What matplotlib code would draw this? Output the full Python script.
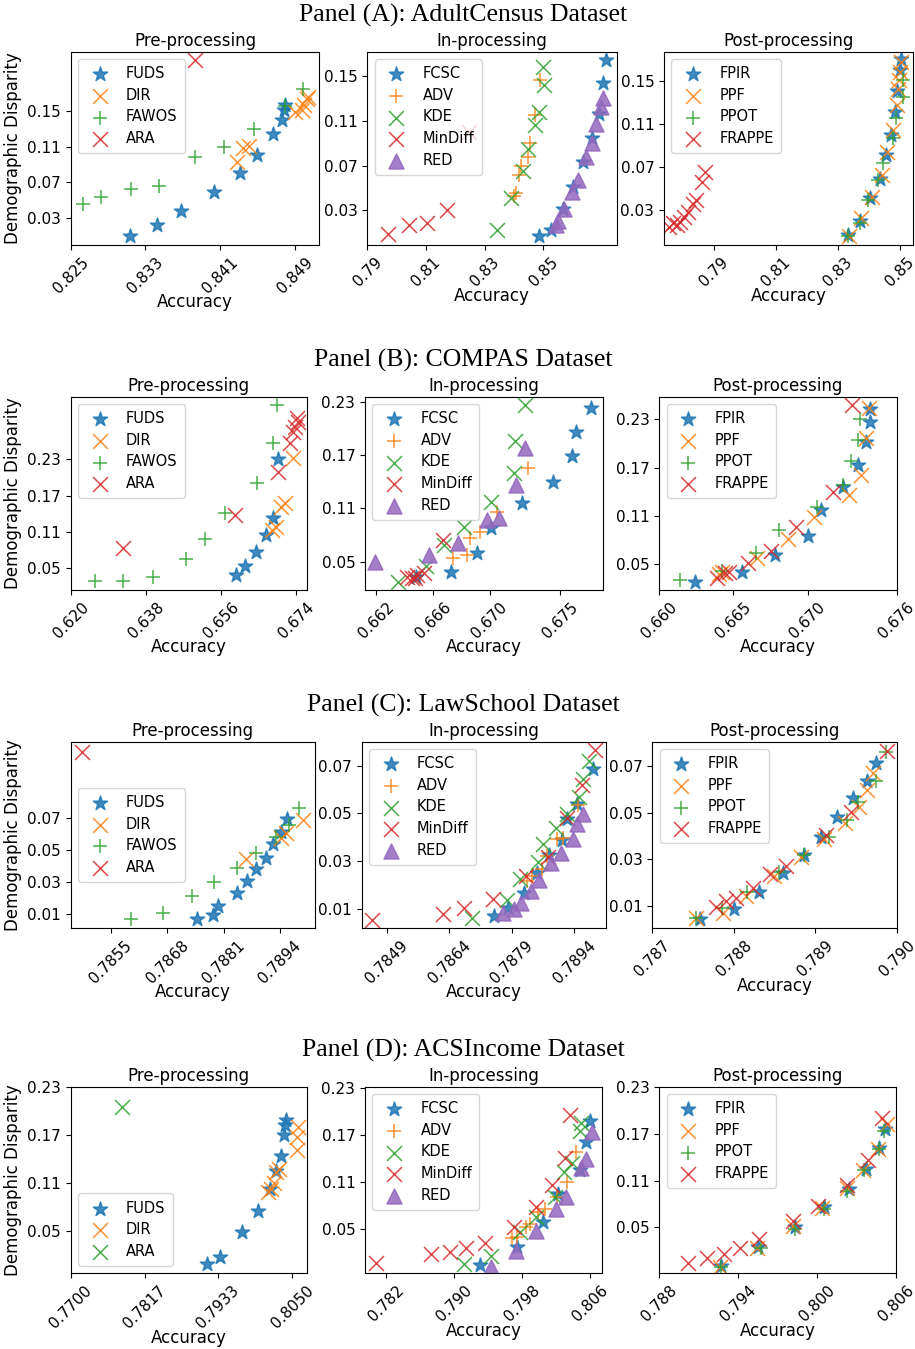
import matplotlib
matplotlib.use("Agg")
import matplotlib.pyplot as plt

# ---------------- Panel (A): AdultCensus ----------------
adult_pre_fuds_acc = [0.8313, 0.8342, 0.8368, 0.8403, 0.8431, 0.8449, 0.8466, 0.8476, 0.8478, 0.8479]
adult_pre_fuds_dp = [0.0089, 0.0213, 0.0371, 0.0586, 0.0797, 0.1004, 0.1241, 0.1399, 0.1512, 0.1564]
adult_pre_dir_acc = [0.8428, 0.8434, 0.8441, 0.8490, 0.8497, 0.8500, 0.8503, 0.8504]
adult_pre_dir_dp = [0.0925, 0.1079, 0.1109, 0.1489, 0.1512, 0.1568, 0.1632, 0.1662]
adult_pre_fawos_acc = [0.8263, 0.8282, 0.8315, 0.8345, 0.8383, 0.8414, 0.8446, 0.8479, 0.8499]
adult_pre_fawos_dp = [0.0458, 0.0526, 0.0620, 0.0657, 0.0977, 0.1090, 0.1297, 0.1557, 0.1745]
adult_pre_ara_acc = [0.8383]
adult_pre_ara_dp = [0.2076]

adult_in_fcsc_acc = [0.8484, 0.8525, 0.8568, 0.8600, 0.8634, 0.8665, 0.8690, 0.8705, 0.8714]
adult_in_fcsc_dp = [0.0071, 0.0124, 0.0312, 0.0511, 0.0729, 0.0943, 0.1158, 0.1435, 0.1643]
adult_in_adv_acc = [0.8400, 0.8407, 0.8416, 0.8425, 0.8449, 0.8455, 0.8473, 0.8489]
adult_in_adv_dp = [0.0431, 0.0452, 0.0616, 0.0696, 0.0779, 0.0905, 0.1152, 0.1464]
adult_in_kde_acc = [0.8343, 0.8391, 0.8430, 0.8446, 0.8473, 0.8485, 0.8503, 0.8500]
adult_in_kde_dp = [0.0124, 0.0407, 0.0654, 0.0845, 0.1062, 0.1179, 0.1420, 0.1578]
adult_in_mindiff_acc = [0.7969, 0.8043, 0.8105, 0.8171, 0.8248]
adult_in_mindiff_dp = [0.0089, 0.0169, 0.0184, 0.0303, 0.1003]
adult_in_red_acc = [0.8543, 0.8551, 0.8571, 0.8597, 0.8619, 0.8646, 0.8665, 0.8680, 0.8697, 0.8702]
adult_in_red_dp = [0.0169, 0.0208, 0.0312, 0.0464, 0.0571, 0.0779, 0.0899, 0.1068, 0.1220, 0.1301]

adult_post_fpir_acc = [0.8333, 0.8371, 0.8403, 0.8436, 0.8455, 0.8471, 0.8484, 0.8491, 0.8500, 0.8502]
adult_post_fpir_dp = [0.0072, 0.0204, 0.0411, 0.0590, 0.0812, 0.0997, 0.1213, 0.1404, 0.1598, 0.1697]
adult_post_ppf_acc = [0.8337, 0.8373, 0.8409, 0.8441, 0.8457, 0.8476, 0.8489, 0.8495, 0.8498, 0.8500, 0.8503]
adult_post_ppf_dp = [0.0063, 0.0226, 0.0426, 0.0627, 0.0843, 0.1043, 0.1275, 0.1419, 0.1506, 0.1583, 0.1676]
adult_post_ppot_acc = [0.8333, 0.8371, 0.8398, 0.8430, 0.8446, 0.8476, 0.8487, 0.8509, 0.8511]
adult_post_ppot_dp = [0.0063, 0.0186, 0.0396, 0.0581, 0.0735, 0.0966, 0.1151, 0.1352, 0.1506]
adult_post_frappe_acc = [0.7756, 0.7769, 0.7780, 0.7790, 0.7803, 0.7817, 0.7831, 0.7842, 0.7860, 0.7871]
adult_post_frappe_dp = [0.0149, 0.0180, 0.0161, 0.0195, 0.0241, 0.0288, 0.0359, 0.0396, 0.0565, 0.0658]

# ---------------- Panel (B): COMPAS ----------------
compas_pre_fuds_acc = [0.6596, 0.6617, 0.6644, 0.6668, 0.6685, 0.6696]
compas_pre_fuds_dp = [0.0390, 0.0544, 0.0775, 0.1051, 0.1326, 0.2300]
compas_pre_dir_acc = [0.6682, 0.6693, 0.6704, 0.6713, 0.6734]
compas_pre_dir_dp = [0.1133, 0.1188, 0.1518, 0.1573, 0.2317]
compas_pre_fawos_acc = [0.6258, 0.6326, 0.6398, 0.6476, 0.6522, 0.6570, 0.6646, 0.6686, 0.6694]
compas_pre_fawos_dp = [0.0291, 0.0291, 0.0362, 0.0654, 0.0984, 0.1408, 0.1904, 0.2564, 0.3197]
compas_pre_ara_acc = [0.6325, 0.6594, 0.6698, 0.6726, 0.6733, 0.6739, 0.6745, 0.6742]
compas_pre_ara_dp = [0.0841, 0.1381, 0.2096, 0.2564, 0.2757, 0.2840, 0.2922, 0.2988]

compas_in_fcsc_acc = [0.6648, 0.6673, 0.6691, 0.6701, 0.6723, 0.6745, 0.6758, 0.6761, 0.6772]
compas_in_fcsc_dp = [0.0331, 0.0388, 0.0594, 0.0875, 0.1156, 0.1393, 0.1689, 0.1963, 0.2225]
compas_in_adv_acc = [0.6674, 0.6684, 0.6686, 0.6693, 0.6705, 0.6727]
compas_in_adv_dp = [0.0545, 0.0575, 0.0770, 0.0838, 0.1055, 0.1550]
compas_in_kde_acc = [0.6635, 0.6655, 0.6668, 0.6682, 0.6701, 0.6717, 0.6718, 0.6725]
compas_in_kde_dp = [0.0275, 0.0455, 0.0688, 0.0894, 0.1175, 0.1494, 0.1858, 0.2263]
compas_in_mindiff_acc = [0.6642, 0.6645, 0.6647, 0.6649, 0.6654, 0.6667]
compas_in_mindiff_dp = [0.0331, 0.0320, 0.0313, 0.0350, 0.0369, 0.0744]
compas_in_red_acc = [0.6619, 0.6657, 0.6678, 0.6698, 0.6707, 0.6719, 0.6725]
compas_in_red_dp = [0.0500, 0.0575, 0.0706, 0.0969, 0.0988, 0.1363, 0.1783]

compas_post_fpir_acc = [0.6624, 0.6656, 0.6678, 0.6700, 0.6709, 0.6724, 0.6734, 0.6739, 0.6742, 0.6742]
compas_post_fpir_dp = [0.0280, 0.0396, 0.0612, 0.0852, 0.1172, 0.1462, 0.1732, 0.2022, 0.2271, 0.2428]
compas_post_ppf_acc = [0.6640, 0.6642, 0.6666, 0.6687, 0.6704, 0.6728, 0.6736, 0.6739, 0.6741]
compas_post_ppf_dp = [0.0371, 0.0405, 0.0570, 0.0811, 0.1089, 0.1358, 0.1607, 0.2072, 0.2437]
compas_post_ppot_acc = [0.6614, 0.6642, 0.6665, 0.6681, 0.6706, 0.6724, 0.6729, 0.6734, 0.6735]
compas_post_ppot_dp = [0.0301, 0.0413, 0.0641, 0.0923, 0.1213, 0.1483, 0.1781, 0.2043, 0.2300]
compas_post_frappe_acc = [0.6639, 0.6644, 0.6647, 0.6660, 0.6675, 0.6692, 0.6717, 0.6730]
compas_post_frappe_dp = [0.0322, 0.0384, 0.0405, 0.0508, 0.0662, 0.0964, 0.1392, 0.2478]

# ---------------- Panel (C): LawSchool ----------------
law_pre_fuds_acc = [0.78748, 0.78786, 0.78798, 0.78842, 0.78863, 0.78885, 0.78908, 0.78925, 0.78942, 0.78957]
law_pre_fuds_dp = [0.0069, 0.0096, 0.0154, 0.0231, 0.0310, 0.0383, 0.0450, 0.0540, 0.0617, 0.0694]
law_pre_dir_acc = [0.78862, 0.78942, 0.78954, 0.78993]
law_pre_dir_dp = [0.0444, 0.0575, 0.0606, 0.0690]
law_pre_fawos_acc = [0.78596, 0.78671, 0.78736, 0.78788, 0.78840, 0.78884, 0.78932, 0.78962, 0.78985]
law_pre_fawos_dp = [0.0069, 0.0106, 0.0217, 0.0300, 0.0387, 0.0485, 0.0581, 0.0658, 0.0762]
law_pre_ara_acc = [0.78482]
law_pre_ara_dp = [0.1117]

law_in_fcsc_acc = [0.78748, 0.78782, 0.78819, 0.78850, 0.78880, 0.78910, 0.78923, 0.78946, 0.78984]
law_in_fcsc_dp = [0.0069, 0.0101, 0.0167, 0.0249, 0.0326, 0.0389, 0.0476, 0.0540, 0.0686]
law_in_adv_acc = [0.78826, 0.78838, 0.78862, 0.78875, 0.78899, 0.78912, 0.78950]
law_in_adv_dp = [0.0214, 0.0235, 0.0265, 0.0321, 0.0392, 0.0396, 0.0536]
law_in_kde_acc = [0.78694, 0.78778, 0.78810, 0.78854, 0.78866, 0.78896, 0.78922, 0.78952, 0.78962, 0.78976]
law_in_kde_dp = [0.0059, 0.0136, 0.0223, 0.0298, 0.0372, 0.0438, 0.0498, 0.0571, 0.0644, 0.0722]
law_in_mindiff_acc = [0.78454, 0.78624, 0.78675, 0.78746, 0.78824, 0.78878, 0.78922, 0.78958, 0.78990]
law_in_mindiff_dp = [0.0052, 0.0078, 0.0101, 0.0139, 0.0235, 0.0319, 0.0480, 0.0620, 0.0767]
law_in_red_acc = [0.78768, 0.78795, 0.78811, 0.78835, 0.78856, 0.78883, 0.78907, 0.78936, 0.78946, 0.78962]
law_in_red_dp = [0.0083, 0.0097, 0.0122, 0.0176, 0.0221, 0.0291, 0.0333, 0.0392, 0.0456, 0.0498]

law_post_fpir_acc = [0.78758, 0.78800, 0.78831, 0.78860, 0.78886, 0.78907, 0.78927, 0.78946, 0.78964, 0.78974]
law_post_fpir_dp = [0.0043, 0.0086, 0.0161, 0.0240, 0.0319, 0.0394, 0.0480, 0.0561, 0.0637, 0.0711]
law_post_ppf_acc = [0.78754, 0.78787, 0.78815, 0.78849, 0.78883, 0.78911, 0.78937, 0.78954, 0.78964, 0.78971]
law_post_ppf_dp = [0.0050, 0.0071, 0.0143, 0.0229, 0.0311, 0.0386, 0.0454, 0.0523, 0.0597, 0.0671]
law_post_ppot_acc = [0.78754, 0.78786, 0.78816, 0.78855, 0.78886, 0.78917, 0.78939, 0.78953, 0.78975, 0.78987]
law_post_ppot_dp = [0.0047, 0.0090, 0.0161, 0.0247, 0.0319, 0.0397, 0.0469, 0.0547, 0.0637, 0.0761]
law_post_frappe_acc = [0.78778, 0.78790, 0.78803, 0.78824, 0.78844, 0.78864, 0.78913, 0.78944, 0.78988]
law_post_frappe_dp = [0.0094, 0.0119, 0.0133, 0.0176, 0.0237, 0.0269, 0.0404, 0.0504, 0.0766]

# ---------------- Panel (D): ACSIncome ----------------
acs_pre_fuds_acc = [0.7915, 0.7936, 0.7970, 0.7996, 0.8015, 0.8024, 0.8033, 0.8037, 0.8038, 0.8040]
acs_pre_fuds_dp = [0.0084, 0.0180, 0.0483, 0.0749, 0.1024, 0.1248, 0.1440, 0.1698, 0.1822, 0.1885]
acs_pre_dir_acc = [0.8012, 0.8017, 0.8021, 0.8024, 0.8030, 0.8057, 0.8058, 0.8060]
acs_pre_dir_dp = [0.0982, 0.1024, 0.1095, 0.1232, 0.1273, 0.1510, 0.1677, 0.1801]
acs_pre_ara_acc = [0.7781]
acs_pre_ara_dp = [0.2051]

acs_in_fcsc_acc = [0.7931, 0.7974, 0.8005, 0.8023, 0.8048, 0.8056, 0.8060]
acs_in_fcsc_dp = [0.0047, 0.0280, 0.0597, 0.0945, 0.1254, 0.1605, 0.1876]
acs_in_adv_acc = [0.7968, 0.7974, 0.7985, 0.7989, 0.7999, 0.8007, 0.8021, 0.8033, 0.8044]
acs_in_adv_dp = [0.0386, 0.0407, 0.0534, 0.0564, 0.0724, 0.0758, 0.0915, 0.1097, 0.1478]
acs_in_kde_acc = [0.7912, 0.7943, 0.7978, 0.7997, 0.8019, 0.8029, 0.8039, 0.8048, 0.8050]
acs_in_kde_dp = [0.0055, 0.0165, 0.0470, 0.0661, 0.0915, 0.1224, 0.1339, 0.1749, 0.1847]
acs_in_mindiff_acc = [0.7808, 0.7873, 0.7895, 0.7914, 0.7937, 0.7971, 0.7997, 0.8016, 0.8031, 0.8037]
acs_in_mindiff_dp = [0.0068, 0.0182, 0.0208, 0.0267, 0.0322, 0.0534, 0.0788, 0.1063, 0.1411, 0.1953]
acs_in_red_acc = [0.7944, 0.7973, 0.7997, 0.8020, 0.8032, 0.8050, 0.8056, 0.8062]
acs_in_red_dp = [0.0026, 0.0225, 0.0479, 0.0758, 0.0915, 0.1275, 0.1394, 0.1741]

acs_post_fpir_acc = [0.7927, 0.7955, 0.7983, 0.8005, 0.8024, 0.8037, 0.8047, 0.8052]
acs_post_fpir_dp = [0.0013, 0.0256, 0.0500, 0.0757, 0.0996, 0.1253, 0.1518, 0.1753]
acs_post_ppf_acc = [0.7926, 0.7954, 0.7982, 0.8004, 0.8023, 0.8035, 0.8046, 0.8053]
acs_post_ppf_dp = [0.0000, 0.0243, 0.0513, 0.0748, 0.1005, 0.1240, 0.1509, 0.1817]
acs_post_ppot_acc = [0.7927, 0.7957, 0.7983, 0.8005, 0.8023, 0.8036, 0.8047, 0.8051]
acs_post_ppot_dp = [0.0000, 0.0235, 0.0483, 0.0739, 0.0970, 0.1240, 0.1509, 0.1732]
acs_post_frappe_acc = [0.7902, 0.7916, 0.7929, 0.7941, 0.7956, 0.7982, 0.8001, 0.8023, 0.8039, 0.8049]
acs_post_frappe_dp = [0.0042, 0.0115, 0.0158, 0.0235, 0.0355, 0.0577, 0.0769, 0.1039, 0.1368, 0.1903]

# ticks shown on each axis
adult_xticks = [[0.825, 0.833, 0.841, 0.849], [0.79, 0.81, 0.83, 0.85], [0.79, 0.81, 0.83, 0.85]]
adult_yticks = [0.03, 0.07, 0.11, 0.15]
compas_xticks = [[0.620, 0.638, 0.656, 0.674], [0.662, 0.666, 0.670, 0.675], [0.660, 0.665, 0.670, 0.676]]
compas_yticks = [0.05, 0.11, 0.17, 0.23]
law_xticks = [[0.7855, 0.7868, 0.7881, 0.7894], [0.7849, 0.7864, 0.7879, 0.7894], [0.787, 0.788, 0.789, 0.790]]
law_yticks = [0.01, 0.03, 0.05, 0.07]
acs_xticks = [[0.7700, 0.7817, 0.7933, 0.8050], [0.782, 0.790, 0.798, 0.806], [0.788, 0.794, 0.800, 0.806]]
acs_yticks = [0.05, 0.11, 0.17, 0.23]

W, H = 915, 1349
fig = plt.figure(figsize=(W / 100, H / 100), dpi=100)


def make_axes(l, t, r, b):
    # pixel box -> figure fraction
    return fig.add_axes([l / W, 1 - b / H, (r - l) / W, (b - t) / H])


def draw(ax, series, title, xticks, xfmt, yticks, xlim, ylim, loc="upper left", ylabel=False):
    for label, acc, dp, marker, color in series:
        ax.scatter(acc, dp, marker=marker, color=color, s=115, alpha=0.85,
                   linewidths=1.1, label=label)
    ax.set_xticks(xticks)
    ax.set_xticklabels([xfmt % v for v in xticks], rotation=45)
    ax.set_yticks(yticks)
    ax.set_yticklabels(["%.2f" % v for v in yticks])
    ax.set_xlim(*xlim)
    ax.set_ylim(*ylim)
    ax.tick_params(labelsize=11)
    ax.set_title(title, fontsize=12, pad=4)
    ax.set_xlabel("Accuracy", fontsize=12, labelpad=-2)
    if ylabel:
        ax.set_ylabel("Demographic Disparity", fontsize=12)
    ax.legend(loc=loc, fontsize=10.5, borderpad=0.5, labelspacing=0.45)


def pre_series(fuds, dirr, fawos, ara):
    out = [("FUDS", *fuds, "*", "C0"), ("DIR", *dirr, "x", "C1")]
    if fawos is not None:
        out.append(("FAWOS", *fawos, "+", "C2"))
        out.append(("ARA", *ara, "x", "C3"))
    else:
        out.append(("ARA", *ara, "x", "C2"))
    return out


def in_series(fcsc, adv, kde, mindiff, red):
    return [("FCSC", *fcsc, "*", "C0"), ("ADV", *adv, "+", "C1"), ("KDE", *kde, "x", "C2"),
            ("MinDiff", *mindiff, "x", "C3"), ("RED", *red, "^", "C4")]


def post_series(fpir, ppf, ppot, frappe):
    return [("FPIR", *fpir, "*", "C0"), ("PPF", *ppf, "x", "C1"),
            ("PPOT", *ppot, "+", "C2"), ("FRAPPE", *frappe, "x", "C3")]


serif = dict(family="Liberation Serif", fontsize=18.5, ha="center", va="center")

# Panel A
fig.text(463 / W, 1 - 15 / H, "Panel (A): AdultCensus Dataset", **serif)
ax = make_axes(70.7, 51.7, 319.3, 245)
draw(ax, pre_series((adult_pre_fuds_acc, adult_pre_fuds_dp), (adult_pre_dir_acc, adult_pre_dir_dp),
                    (adult_pre_fawos_acc, adult_pre_fawos_dp), (adult_pre_ara_acc, adult_pre_ara_dp)),
     "Pre-processing", adult_xticks[0], "%.3f", adult_yticks, (0.825, 0.8516), (-0.001, 0.217), ylabel=True)
ax = make_axes(367.3, 51.7, 616.7, 245)
draw(ax, in_series((adult_in_fcsc_acc, adult_in_fcsc_dp), (adult_in_adv_acc, adult_in_adv_dp),
                   (adult_in_kde_acc, adult_in_kde_dp), (adult_in_mindiff_acc, adult_in_mindiff_dp),
                   (adult_in_red_acc, adult_in_red_dp)),
     "In-processing", adult_xticks[1], "%.2f", adult_yticks, (0.79, 0.875), (-0.001, 0.1718))
ax = make_axes(664, 51.7, 912.7, 245)
draw(ax, post_series((adult_post_fpir_acc, adult_post_fpir_dp), (adult_post_ppf_acc, adult_post_ppf_dp),
                     (adult_post_ppot_acc, adult_post_ppot_dp), (adult_post_frappe_acc, adult_post_frappe_dp)),
     "Post-processing", adult_xticks[2], "%.2f", adult_yticks, (0.7739, 0.8541), (-0.0021, 0.1768))

# Panel B
fig.text(463 / W, 1 - 360 / H, "Panel (B): COMPAS Dataset", **serif)
ax = make_axes(70.7, 396.7, 306.7, 590)
draw(ax, pre_series((compas_pre_fuds_acc, compas_pre_fuds_dp), (compas_pre_dir_acc, compas_pre_dir_dp),
                    (compas_pre_fawos_acc, compas_pre_fawos_dp), (compas_pre_ara_acc, compas_pre_ara_dp)),
     "Pre-processing", compas_xticks[0], "%.3f", compas_yticks, (0.620, 0.6766), (0.0142, 0.3335), ylabel=True)
ax = make_axes(365, 396.7, 602.7, 590)
draw(ax, in_series((compas_in_fcsc_acc, compas_in_fcsc_dp), (compas_in_adv_acc, compas_in_adv_dp),
                   (compas_in_kde_acc, compas_in_kde_dp), (compas_in_mindiff_acc, compas_in_mindiff_dp),
                   (compas_in_red_acc, compas_in_red_dp)),
     "In-processing", compas_xticks[1], "%.3f", compas_yticks, (0.6612, 0.6780), (0.0181, 0.2356))
ax = make_axes(659.3, 396.7, 896.7, 590)
draw(ax, post_series((compas_post_fpir_acc, compas_post_fpir_dp), (compas_post_ppf_acc, compas_post_ppf_dp),
                     (compas_post_ppot_acc, compas_post_ppot_dp), (compas_post_frappe_acc, compas_post_frappe_dp)),
     "Post-processing", compas_xticks[2], "%.3f", compas_yticks, (0.660, 0.676), (0.0177, 0.2582))

# Panel C
fig.text(463 / W, 1 - 705 / H, "Panel (C): LawSchool Dataset", **serif)
ax = make_axes(70.7, 741.7, 315, 928.3)
draw(ax, pre_series((law_pre_fuds_acc, law_pre_fuds_dp), (law_pre_dir_acc, law_pre_dir_dp),
                    (law_pre_fawos_acc, law_pre_fawos_dp), (law_pre_ara_acc, law_pre_ara_dp)),
     "Pre-processing", law_xticks[0], "%.4f", law_yticks, (0.78457, 0.79021), (0.00125, 0.1179),
     loc="center left", ylabel=True)
ax = make_axes(361.7, 741.7, 606, 928.3)
draw(ax, in_series((law_in_fcsc_acc, law_in_fcsc_dp), (law_in_adv_acc, law_in_adv_dp),
                   (law_in_kde_acc, law_in_kde_dp), (law_in_mindiff_acc, law_in_mindiff_dp),
                   (law_in_red_acc, law_in_red_dp)),
     "In-processing", law_xticks[1], "%.4f", law_yticks, (0.7843, 0.79016), (0.0017, 0.0802))
ax = make_axes(652.3, 741.7, 896.7, 928.3)
draw(ax, post_series((law_post_fpir_acc, law_post_fpir_dp), (law_post_ppf_acc, law_post_ppf_dp),
                     (law_post_ppot_acc, law_post_ppot_dp), (law_post_frappe_acc, law_post_frappe_dp)),
     "Post-processing", law_xticks[2], "%.3f", law_yticks, (0.787, 0.790), (0.0004, 0.0804))

# Panel D
fig.text(463 / W, 1 - 1050 / H, "Panel (D): ACSIncome Dataset", **serif)
ax = make_axes(70.7, 1086.7, 306.7, 1273.3)
draw(ax, pre_series((acs_pre_fuds_acc, acs_pre_fuds_dp), (acs_pre_dir_acc, acs_pre_dir_dp),
                    None, (acs_pre_ara_acc, acs_pre_ara_dp)),
     "Pre-processing", acs_xticks[0], "%.4f", acs_yticks, (0.770, 0.8073), (-0.0028, 0.23),
     loc="lower left", ylabel=True)
ax = make_axes(365, 1086.7, 601.7, 1273.3)
draw(ax, in_series((acs_in_fcsc_acc, acs_in_fcsc_dp), (acs_in_adv_acc, acs_in_adv_dp),
                   (acs_in_kde_acc, acs_in_kde_dp), (acs_in_mindiff_acc, acs_in_mindiff_dp),
                   (acs_in_red_acc, acs_in_red_dp)),
     "In-processing", acs_xticks[1], "%.3f", acs_yticks, (0.7795, 0.8074), (-0.0059, 0.2313))
ax = make_axes(659.3, 1086.7, 896, 1273.3)
draw(ax, post_series((acs_post_fpir_acc, acs_post_fpir_dp), (acs_post_ppf_acc, acs_post_ppf_dp),
                     (acs_post_ppot_acc, acs_post_ppot_dp), (acs_post_frappe_acc, acs_post_frappe_dp)),
     "Post-processing", acs_xticks[2], "%.3f", acs_yticks, (0.788, 0.806), (-0.0086, 0.23))

fig.savefig("out.png", dpi=100)
